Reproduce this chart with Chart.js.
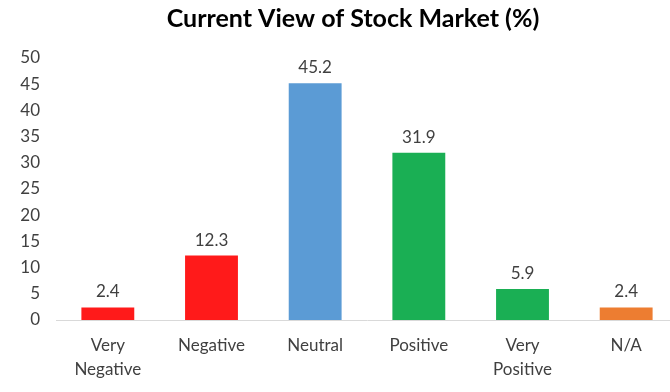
<!DOCTYPE html>
<html>
<head>
<meta charset="utf-8">
<script src="https://cdn.jsdelivr.net/npm/chart.js@4/dist/chart.umd.min.js"></script>
<style>
  html, body { margin: 0; padding: 0; background: #fff; overflow: hidden; }
  #wrap { width: 706px; height: 392px; }
</style>
</head>
<body>
<div id="wrap"><canvas id="chart" width="706" height="392"></canvas></div>
<script>
const TITLE = 'Current View of Stock Market (%)';
const CATEGORIES = [['Very', 'Negative'], 'Negative', 'Neutral', 'Positive', ['Very', 'Positive'], 'N/A'];
const VALUES = [2.4, 12.3, 45.2, 31.9, 5.9, 2.4];
const BAR_COLORS = ['#ff1a1a', '#ff1a1a', '#5b9bd5', '#1aaf54', '#1aaf54', '#ed7d31'];
const Y_MAX = 50;
const Y_STEP = 5;

const TEXT_COLOR = '#404040';
const FONT = 'Lato, "Open Sans", sans-serif';

// labels above each bar
const valueLabels = {
  id: 'valueLabels',
  afterDatasetsDraw(chart) {
    const { ctx } = chart;
    const meta = chart.getDatasetMeta(0);
    ctx.save();
    ctx.font = '17px ' + FONT;
    ctx.fillStyle = TEXT_COLOR;
    ctx.textAlign = 'center';
    ctx.textBaseline = 'bottom';
    meta.data.forEach((bar, i) => {
      ctx.fillText(VALUES[i].toFixed(1), bar.x, bar.y - 7);
    });
    ctx.restore();
  },
};

// title centred on the visible picture, not on the chart box
const topTitle = {
  id: 'topTitle',
  afterDraw(chart) {
    const { ctx } = chart;
    ctx.save();
    ctx.font = 'bold 25px ' + FONT;
    ctx.fillStyle = '#000';
    ctx.textAlign = 'center';
    ctx.textBaseline = 'middle';
    ctx.fillText(TITLE, 353, 19);
    ctx.restore();
  },
};

new Chart(document.getElementById('chart'), {
  type: 'bar',
  data: {
    labels: CATEGORIES,
    datasets: [{
      data: VALUES,
      backgroundColor: BAR_COLORS,
      barPercentage: 0.51,
      categoryPercentage: 1,
    }],
  },
  options: {
    responsive: false,
    animation: false,
    layout: { padding: { left: 0, right: 28, top: 58, bottom: 0 } },
    plugins: {
      legend: { display: false },
      tooltip: { enabled: false },
      title: { display: false },
    },
    scales: {
      x: {
        grid: { display: false, drawTicks: false },
        border: { color: '#d9d9d9', width: 1 },
        ticks: {
          color: TEXT_COLOR,
          font: { family: FONT, size: 17, lineHeight: 1.45 },
          padding: 13,
          maxRotation: 0,
          autoSkip: false,
        },
        afterFit(scale) { scale.height = 72; },
      },
      y: {
        min: 0,
        max: Y_MAX,
        grid: { display: false, drawTicks: false },
        border: { display: false },
        ticks: {
          stepSize: Y_STEP,
          color: TEXT_COLOR,
          font: { family: FONT, size: 17 },
          padding: 16,
        },
        afterFit(scale) { scale.width = 56; },
      },
    },
  },
  plugins: [valueLabels, topTitle],
});
</script>
</body>
</html>
